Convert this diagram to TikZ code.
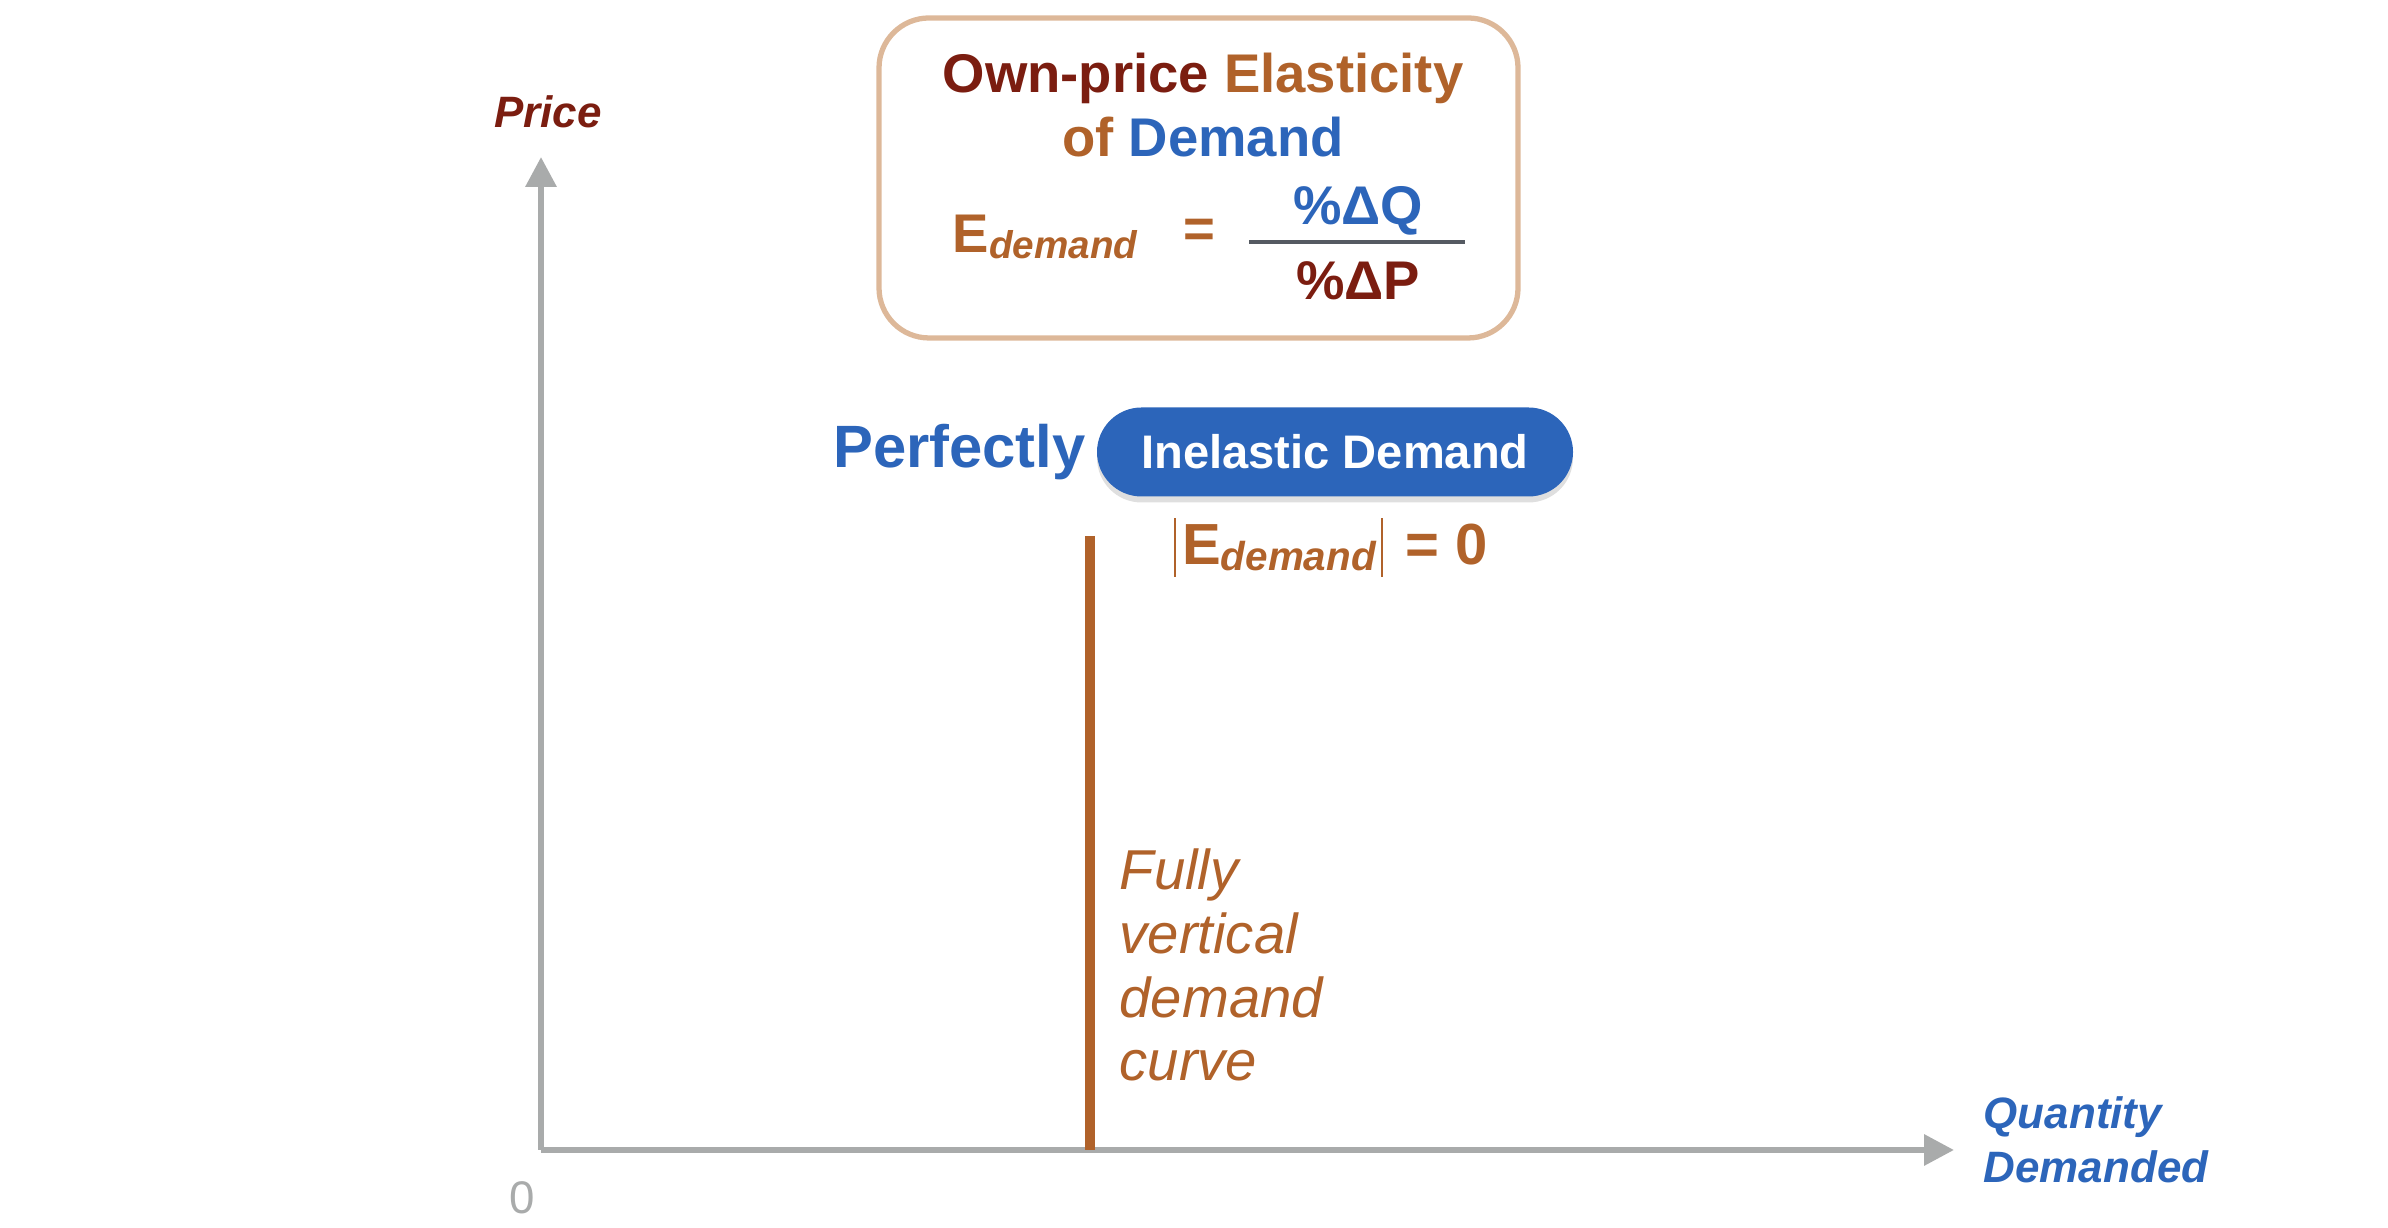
\documentclass[tikz,border=0pt]{standalone}
\usepackage{fontspec}
\setmainfont{Liberation Sans}
\usepackage{xcolor}
\usepackage{tikz}
\usetikzlibrary{arrows.meta, positioning, shadows}

\definecolor{darkred}{HTML}{7B1D10}
\definecolor{rust}{HTML}{B0622A}
\definecolor{demblue}{HTML}{2C65BA}
\definecolor{axisgray}{HTML}{A9ABAB}
\definecolor{boxtan}{HTML}{DDB899}
\definecolor{fracgray}{HTML}{555A62}

\begin{document}
\begin{tikzpicture}[
    axis/.style={-{Triangle[length=3mm, width=3mm]}, line width=1.8pt, color=axisgray},
    axislabel/.style={font=\fontsize{12.5}{15.4}\selectfont\bfseries\itshape, align=left, inner sep=0pt},
    title/.style={font=\fontsize{15.5}{18}\selectfont\bfseries, inner sep=0pt},
    pill/.style={rectangle, rounded corners=0.445cm, fill=demblue, minimum width=4.76cm, minimum height=0.89cm, text=white, font=\fontsize{13.4}{16}\selectfont\bfseries, drop shadow={opacity=0.25, shadow xshift=0pt, shadow yshift=-0.6mm}},
    note/.style={font=\fontsize{16}{18.2}\selectfont\itshape, text=rust, align=left, inner sep=0pt},
]
\useasboundingbox (0,0) rectangle (23.88,12.28);

% Axes
\coordinate (origin) at (5.41,0.78);
\coordinate (ytop) at (5.41,10.71);
\coordinate (xend) at (19.54,0.78);
\draw[axis] (origin) -- (ytop);
\draw[axis] (origin) -- (xend);
\node[axislabel, text=darkred, anchor=base] (price) at (5.48,11.00) {Price};
\node[axislabel, text=demblue, anchor=west] (qty) at (19.83,0.88) {Quantity\\Demanded};
\node[font=\fontsize{13}{15}\selectfont, text=axisgray, anchor=base, inner sep=0pt] (zero) at (5.22,0.14) {0};

% Definition box
\node[draw=boxtan, line width=1.5pt, rounded corners=0.5cm, minimum width=6.39cm, minimum height=3.2cm] (defbox) at (11.985,10.50) {};
\node[title, anchor=base] (ttl1) at (12.03,11.35) {\textcolor{darkred}{Own-price} \textcolor{rust}{Elasticity}};
\node[title, anchor=base] (ttl2) at (12.03,10.71) {\textcolor{rust}{of} \textcolor{demblue}{Demand}};
\node[title, text=rust, anchor=base west] (edef) at (9.52,9.75) {E\fontsize{11}{13}\selectfont\itshape\raisebox{-0.6mm}{demand}};
\node[title, text=rust] (eq) at (11.99,9.95) {=};
\coordinate (fracL) at (12.49,9.86);
\coordinate (fracR) at (14.65,9.86);
\draw[fracgray, line width=1pt] (fracL) -- (fracR);
\node[title, text=demblue, anchor=base] (dq) at (13.58,10.03) {\%ΔQ};
\node[title, text=darkred, anchor=base] (dp) at (13.58,9.28) {\%ΔP};

% Perfectly inelastic label
\node[pill] (inel) at (13.35,7.76) {Inelastic Demand};
\node[font=\fontsize{17}{20}\selectfont\bfseries, text=demblue, inner sep=0pt, left=0.1cm of inel] (perf) {Perfectly};
\node[text=rust, anchor=base west, inner sep=0pt, font=\fontsize{16.5}{19}\selectfont\bfseries] (ezero) at (11.73,6.63)
    {\rule[-1.2mm]{0.7pt}{5.9mm}\hspace{0.6mm}E{\fontsize{11.5}{13}\selectfont\itshape\raisebox{-0.6mm}{demand}}\hspace{0.5mm}\rule[-1.2mm]{0.7pt}{5.9mm}\hspace{0.6mm} = 0};

% Demand curve
\coordinate (dtop) at (10.90,6.92);
\coordinate (dbot) at (10.90,0.78);
\draw[rust, line width=2.6pt] (dtop) -- (dbot);
\node[note, anchor=base west] (curvenote) at (11.19,1.47) {Fully\\vertical\\demand\\curve};

\end{tikzpicture}
\end{document}
